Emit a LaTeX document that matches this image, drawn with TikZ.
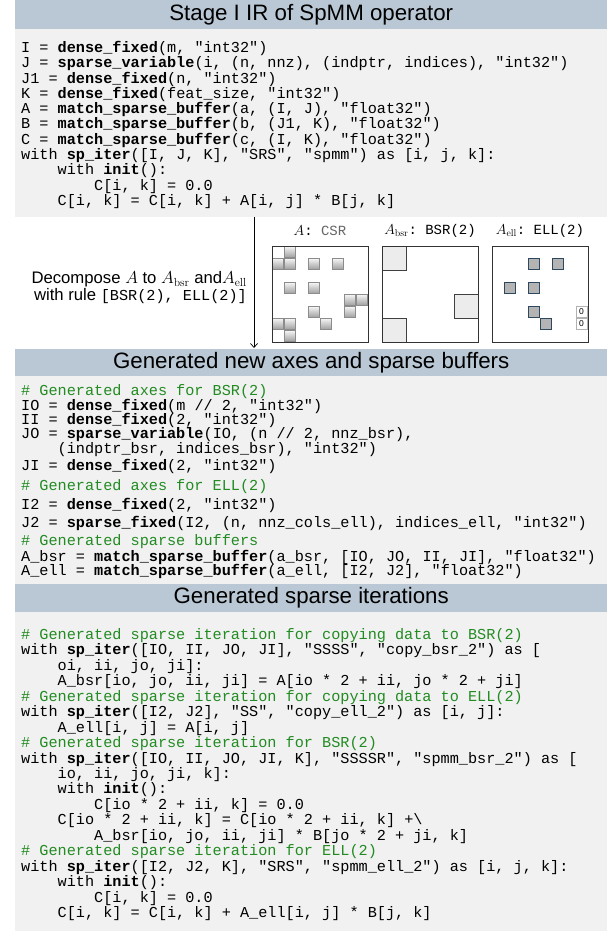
\documentclass[tikz,border=0pt]{standalone}
\usepackage{fontspec}
\setsansfont{Liberation Sans}
\setmonofont{Liberation Mono}
\usetikzlibrary{arrows.meta}

\definecolor{barblue}{RGB}{185,200,212}
\definecolor{codebg}{RGB}{241,241,241}
\definecolor{cmtgreen}{RGB}{34,139,34}
\definecolor{ellfill}{RGB}{180,180,180}
\definecolor{elledge}{RGB}{46,72,94}
\definecolor{bsrfill}{RGB}{236,236,236}

\newcommand\kw[1]{\textbf{#1}}
\newcommand\ind[1]{\hspace*{#1\dimexpr0.6em\relax}}
\newcommand\cmt[1]{\textcolor{cmtgreen}{#1}}
\newcommand\codett[1]{{\ttfamily\fontsize{15.2}{15.2}\selectfont #1}}

\begin{document}
\begin{tikzpicture}[x=1pt,y=-1pt,
  headbar/.style={fill=barblue, minimum width=592pt, anchor=north west, inner sep=0pt,
    font=\sffamily\fontsize{22.3}{24}\selectfont},
  codebox/.style={fill=codebg, minimum width=592pt, anchor=north west, inner sep=0pt},
  codeln/.style={anchor=base west, inner sep=0pt,
    font=\ttfamily\fontsize{15.2}{15.2}\selectfont\frenchspacing},
  matframe/.style={draw=black!80, line width=0.9pt, minimum size=96pt, anchor=north west, inner sep=0pt},
  matlabel/.style={inner sep=0pt, font=\fontsize{14}{16}\selectfont},
  csrcell/.style={draw=black!45, line width=0.5pt, top color=black!4, bottom color=black!38},
  bsrblock/.style={draw=black!75, line width=0.7pt, fill=bsrfill},
  ellcell/.style={draw=elledge, line width=1.1pt, fill=ellfill},
  zerocell/.style={draw=black!30, line width=0.5pt, fill=white, minimum size=11pt, inner sep=0pt,
    font=\sffamily\fontsize{8.5}{9}\selectfont},
  declabel/.style={anchor=base east, inner sep=0pt, font=\sffamily\fontsize{16.7}{18}\selectfont}
]
\useasboundingbox (0,0) rectangle (607,933);

% ---------- section 1: stage I IR ----------
\node[headbar, minimum height=29pt] (h1) at (15,0) {Stage I IR of SpMM operator};
\node[codebox, minimum height=188pt] (box1) at (15,29) {};

\node[codeln] (a1)  at (21,52.5)  {I = \kw{dense\_fixed}(m, "int32")};
\node[codeln] (a2)  at (21,67.8)  {J = \kw{sparse\_variable}(i, (n, nnz), (indptr, indices), "int32")};
\node[codeln] (a3)  at (21,83.1)  {J1 = \kw{dense\_fixed}(n, "int32")};
\node[codeln] (a4)  at (21,98.4)  {K = \kw{dense\_fixed}(feat\_size, "int32")};
\node[codeln] (a5)  at (21,113.7) {A = \kw{match\_sparse\_buffer}(a, (I, J), "float32")};
\node[codeln] (a6)  at (21,129.0) {B = \kw{match\_sparse\_buffer}(b, (J1, K), "float32")};
\node[codeln] (a7)  at (21,144.3) {C = \kw{match\_sparse\_buffer}(c, (I, K), "float32")};
\node[codeln] (a8)  at (21,159.6) {with \kw{sp\_iter}([I, J, K], "SRS", "spmm") as [i, j, k]:};
\node[codeln] (a9)  at (21,174.9) {\ind{4}with \kw{init}():};
\node[codeln] (a10) at (21,190.2) {\ind{8}C[i, k] = 0.0};
\node[codeln] (a11) at (21,205.5) {\ind{4}C[i, k] = C[i, k] + A[i, j] * B[j, k]};

% ---------- decomposition step ----------
\coordinate (arrtop) at (254,217);
\coordinate (arrbot) at (254,348);
\draw[line width=0.7pt, -{Straight Barb[length=4pt,width=7pt]}] (arrtop) -- (arrbot);

\node[declabel] (dec1) at (247,283.5) {Decompose $A$ to $A_{\mathrm{bsr}}$ and$A_{\mathrm{ell}}$};
\node[declabel] (dec2) at (247,300.5) {with rule \codett{[BSR(2), ELL(2)]}};

% matrix A in CSR
\foreach \r/\c in {0/1,1/0,1/1,1/3,1/5,3/1,3/3,4/6,4/7,5/3,5/6,6/0,6/1,6/4,7/1}
  \shade[csrcell] (272.5+12*\c, 246.5+12*\r) rectangle ++(11,11);
\node[matframe] (csr) at (272,246) {};
\node[matlabel] (csrlbl) at (320,231) {$A$\texttt{: }\textcolor{black!60}{\texttt{CSR}}};

% BSR(2) part
\draw[bsrblock] (382,246) rectangle ++(24,24);
\draw[bsrblock] (454,294) rectangle ++(24,24);
\draw[bsrblock] (382,318) rectangle ++(24,24);
\node[matframe] (bsr) at (382,246) {};
\node[matlabel] (bsrlbl) at (430,231) {$A_{\mathrm{bsr}}$\texttt{: BSR(2)}};

% ELL(2) part
\foreach \r/\c in {1/3,1/5,3/1,3/3,5/3,6/4}
  \draw[ellcell] (492.6+12*\c, 246.6+12*\r) rectangle ++(10.8,10.8);
\node[zerocell] (z1) at (581.5,312) {0};
\node[zerocell] (z2) at (581.5,324) {0};
\node[matframe] (ell) at (492,246) {};
\node[matlabel] (elllbl) at (540,231) {$A_{\mathrm{ell}}$\texttt{: ELL(2)}};

% ---------- section 2: new axes and buffers ----------
\node[headbar, minimum height=27pt] (h2) at (15,349) {Generated new axes and sparse buffers};
\node[codebox, minimum height=208pt] (box2) at (15,376) {};

\node[codeln] (b1)  at (21,395.5) {\cmt{\# Generated axes for BSR(2)}};
\node[codeln] (b2)  at (21,410.5) {IO = \kw{dense\_fixed}(m // 2, "int32")};
\node[codeln] (b3)  at (21,424.5) {II = \kw{dense\_fixed}(2, "int32")};
\node[codeln] (b4)  at (21,438.5) {JO = \kw{sparse\_variable}(IO, (n // 2, nnz\_bsr),};
\node[codeln] (b5)  at (21,453.5) {\ind{4}(indptr\_bsr, indices\_bsr), "int32")};
\node[codeln] (b6)  at (21,470.5) {JI = \kw{dense\_fixed}(2, "int32")};
\node[codeln] (b7)  at (21,490.5) {\cmt{\# Generated axes for ELL(2)}};
\node[codeln] (b8)  at (21,509.5) {I2 = \kw{dense\_fixed}(2, "int32")};
\node[codeln] (b9)  at (21,527.5) {J2 = \kw{sparse\_fixed}(I2, (n, nnz\_cols\_ell), indices\_ell, "int32")};
\node[codeln] (b10) at (21,545.0) {\cmt{\# Generated sparse buffers}};
\node[codeln] (b11) at (21,561.0) {A\_bsr = \kw{match\_sparse\_buffer}(a\_bsr, [IO, JO, II, JI], "float32")};
\node[codeln] (b12) at (21,575.0) {A\_ell = \kw{match\_sparse\_buffer}(a\_ell, [I2, J2], "float32")};

% ---------- section 3: sparse iterations ----------
\node[headbar, minimum height=28pt] (h3) at (15,584) {Generated sparse iterations};
\node[codebox, minimum height=319pt] (box3) at (15,612) {};

\node[codeln] (c1)  at (21,639.5) {\cmt{\# Generated sparse iteration for copying data to BSR(2)}};
\node[codeln] (c2)  at (21,654.9) {with \kw{sp\_iter}([IO, II, JO, JI], "SSSS", "copy\_bsr\_2") as [};
\node[codeln] (c3)  at (21,670.4) {\ind{4}oi, ii, jo, ji]:};
\node[codeln] (c4)  at (21,685.8) {\ind{4}A\_bsr[io, jo, ii, ji] = A[io * 2 + ii, jo * 2 + ji]};
\node[codeln] (c5)  at (21,701.3) {\cmt{\# Generated sparse iteration for copying data to ELL(2)}};
\node[codeln] (c6)  at (21,716.7) {with \kw{sp\_iter}([I2, J2], "SS", "copy\_ell\_2") as [i, j]:};
\node[codeln] (c7)  at (21,732.1) {\ind{4}A\_ell[i, j] = A[i, j]};
\node[codeln] (c8)  at (21,747.6) {\cmt{\# Generated sparse iteration for BSR(2)}};
\node[codeln] (c9)  at (21,763.0) {with \kw{sp\_iter}([IO, II, JO, JI, K], "SSSSR", "spmm\_bsr\_2") as [};
\node[codeln] (c10) at (21,778.5) {\ind{4}io, ii, jo, ji, k]:};
\node[codeln] (c11) at (21,793.9) {\ind{4}with \kw{init}():};
\node[codeln] (c12) at (21,809.3) {\ind{8}C[io * 2 + ii, k] = 0.0};
\node[codeln] (c13) at (21,824.8) {\ind{4}C[io * 2 + ii, k] = C[io * 2 + ii, k] +\textbackslash};
\node[codeln] (c14) at (21,840.2) {\ind{8}A\_bsr[io, jo, ii, ji] * B[jo * 2 + ji, k]};
\node[codeln] (c15) at (21,855.7) {\cmt{\# Generated sparse iteration for ELL(2)}};
\node[codeln] (c16) at (21,871.1) {with \kw{sp\_iter}([I2, J2, K], "SRS", "spmm\_ell\_2") as [i, j, k]:};
\node[codeln] (c17) at (21,886.5) {\ind{4}with \kw{init}():};
\node[codeln] (c18) at (21,902.0) {\ind{8}C[i, k] = 0.0};
\node[codeln] (c19) at (21,917.4) {\ind{4}C[i, k] = C[i, k] + A\_ell[i, j] * B[j, k]};
\end{tikzpicture}
\end{document}
